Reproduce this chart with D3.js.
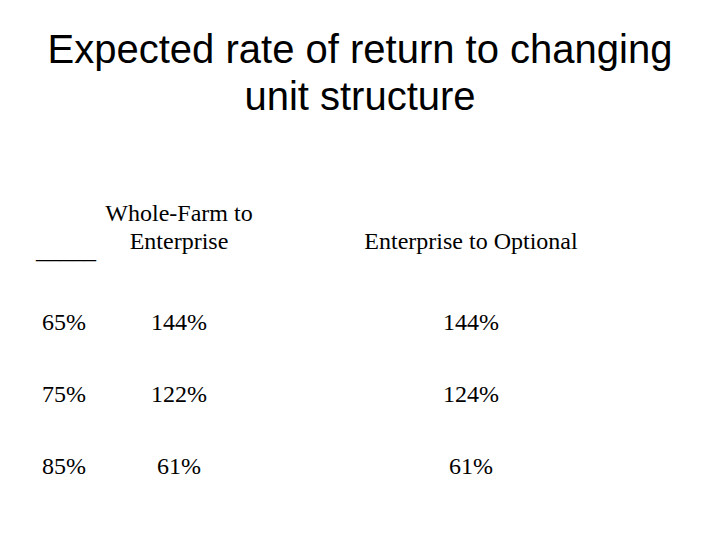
<!DOCTYPE html>
<html>
<head>
<meta charset="utf-8">
<script src="https://d3js.org/d3.v7.min.js"></script>
<style>
  body { margin: 0; background: #fff; }
  text { fill: #000; }
  .title { font-family: "Liberation Sans", Arial, sans-serif; font-size: 40px; }
  .cell { font-family: "Liberation Serif", "Times New Roman", serif; font-size: 24px; }
</style>
</head>
<body>
<svg id="chart" width="720" height="540"></svg>
<script>
// dados da tabela
const titleLines = ["Expected rate of return to changing", "unit structure"];
const rowLabels = ["65%", "75%", "85%"];
const columns = ["Whole-Farm to\nEnterprise", "Enterprise to Optional"];
const wholeToEnterprise = ["144%", "122%", "61%"];
const enterpriseToOptional = ["144%", "124%", "61%"];

const svg = d3.select("#chart");

// titulo
svg.selectAll("text.title").data(titleLines).enter().append("text")
  .attr("class", "title")
  .attr("x", 360)
  .attr("y", (d, i) => 63 + i * 47)
  .attr("text-anchor", "middle")
  .text(d => d);

// escalas
const x = d3.scalePoint().domain(columns).range([179, 471]);
const y = d3.scalePoint().domain(rowLabels).range([330, 474]);

// cabecalho
columns.forEach(c => {
  const lines = c.split("\n");
  svg.append("g").selectAll("text").data(lines).enter().append("text")
    .attr("class", "cell")
    .attr("x", x(c))
    .attr("y", (d, i) => 249 - (lines.length - 1 - i) * 28)
    .attr("text-anchor", "middle")
    .text(d => d);
});
svg.append("text").attr("class", "cell").attr("x", 36).attr("y", 258).text("_____");

// linhas
svg.selectAll("text.row").data(rowLabels).enter().append("text")
  .attr("class", "cell row")
  .attr("x", 42)
  .attr("y", d => y(d))
  .text(d => d);

[wholeToEnterprise, enterpriseToOptional].forEach((series, j) => {
  svg.append("g").selectAll("text").data(series).enter().append("text")
    .attr("class", "cell")
    .attr("x", x(columns[j]))
    .attr("y", (d, i) => y(rowLabels[i]))
    .attr("text-anchor", "middle")
    .text(d => d);
});
</script>
</body>
</html>
